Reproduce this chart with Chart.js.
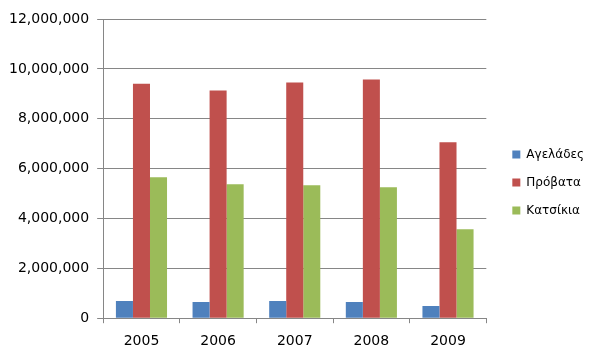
<!DOCTYPE html>
<html>
<head>
<meta charset="utf-8">
<script src="https://cdn.jsdelivr.net/npm/chart.js@4"></script>
<style>
    html, body { margin: 0; padding: 0; background: #ffffff; }
    #wrap { width: 602px; height: 361px; }
</style>
</head>
<body>
<div id="wrap"><canvas id="chart" width="602" height="361"></canvas></div>
<script>
const years = ["2005", "2006", "2007", "2008", "2009"];
const cows = [690000, 650000, 690000, 650000, 490000];
const sheep = [9400000, 9130000, 9450000, 9570000, 7060000];
const goats = [5650000, 5370000, 5330000, 5250000, 3570000];
const yTicks = [0, 2000000, 4000000, 6000000, 8000000, 10000000, 12000000];

const axisColor = "#868686";

// push the legend away from the plot area and a little up
const legendShift = {
    id: "legendShift",
    afterLayout(chart) {
        const lg = chart.legend;
        if (lg) {
            lg.left += 10;
            lg.right += 10;
            lg.top -= 7;
            lg.bottom -= 7;
        }
    },
};

const options = {
    responsive: false,
    animation: false,
    layout: {
        padding: { left: 1, right: 18, top: 19, bottom: 1 },
    },
    plugins: {
        legend: {
            position: "right",
            labels: {
                boxWidth: 8,
                boxHeight: 8,
                padding: 16,
                color: "#000000",
                font: { family: "DejaVu Sans", size: 12 },
            },
        },
        tooltip: { enabled: false },
    },
    scales: {
        x: {
            grid: {
                display: true,
                drawOnChartArea: false,
                drawTicks: true,
                tickLength: 5,
                color: axisColor,
            },
            border: { color: axisColor },
            ticks: {
                color: "#000000",
                padding: 10,
                font: { family: "DejaVu Sans", size: 14 },
            },
        },
        y: {
            min: 0,
            max: 12000000,
            afterBuildTicks: function (axis) {
                axis.ticks = yTicks.map(v => ({ value: v }));
            },
            grid: {
                color: axisColor,
                tickLength: 6,
            },
            border: { color: axisColor },
            ticks: {
                color: "#000000",
                padding: 8,
                font: { family: "DejaVu Sans", size: 14 },
                callback: v => v.toLocaleString("en-US"),
            },
        },
    },
};

const data = {
    labels: years,
    datasets: [
        { label: "Αγελάδες", data: cows, backgroundColor: "#4F81BD" },
        { label: "Πρόβατα", data: sheep, backgroundColor: "#C0504D" },
        { label: "Κατσίκια", data: goats, backgroundColor: "#9BBB59" },
    ],
};
data.datasets.forEach(ds => {
    ds.categoryPercentage = 0.667;
    ds.barPercentage = 1.0;
});

new Chart(document.getElementById("chart"), {
    type: "bar",
    data: data,
    options: options,
    plugins: [legendShift],
});
</script>
</body>
</html>
